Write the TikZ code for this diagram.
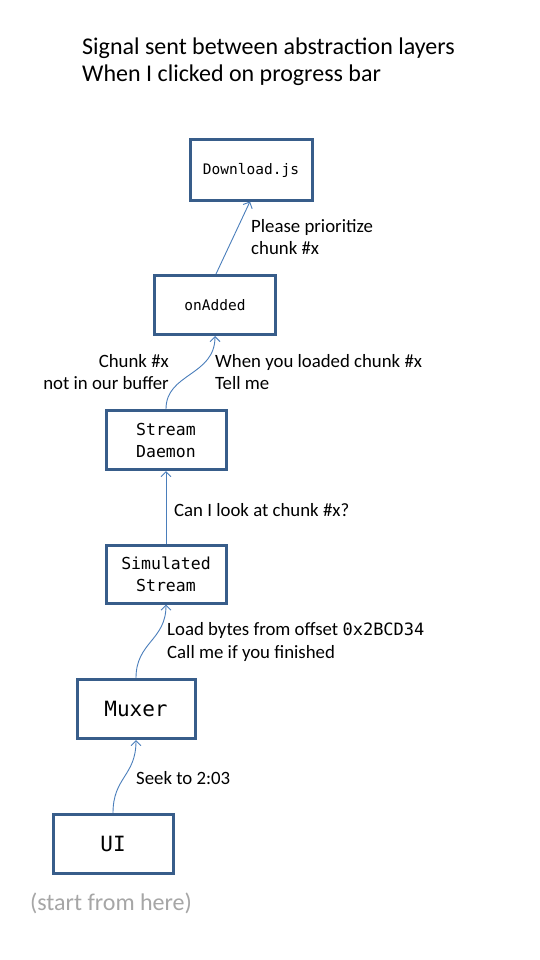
\documentclass[tikz,border=0pt]{standalone}
\usepackage{fontspec}
\setmainfont{Carlito}
\newfontfamily\mono{DejaVu Sans Mono}
\usetikzlibrary{arrows.meta}
\definecolor{boxc}{RGB}{56,93,138}
\definecolor{arrc}{RGB}{74,126,187}
\definecolor{grayt}{RGB}{166,166,166}
\tikzset{
  layer/.style={draw=boxc, line width=3pt, fill=white, inner sep=0pt, anchor=center},
  sig/.style={draw=arrc, line width=0.9pt, -{Straight Barb[length=5pt,width=10pt]}},
  lbl/.style={font=\fontsize{18.8}{22.5}\selectfont, align=left, inner sep=0pt}
}
\begin{document}
\begin{tikzpicture}[x=1pt,y=-1pt]
\useasboundingbox (0,0) rectangle (540,960);
\fill[white] (0,0) rectangle (540,960);
% title
\node[anchor=west, inner sep=0pt, font=\fontsize{24}{27}\selectfont, align=left] (title) at (82,62)
  {Signal sent between abstraction layers\\When I clicked on progress bar};
% boxes
\node[layer, minimum width=122pt, minimum height=60pt, font=\mono\fontsize{14.5}{18}\selectfont] (dl) at (251,170) {Download.js};
\node[layer, minimum width=121pt, minimum height=59pt, font=\mono\fontsize{14.5}{18}\selectfont] (on) at (215,305) {onAdded};
\node[layer, minimum width=120pt, minimum height=59pt, align=center, font=\mono\fontsize{16.5}{22}\selectfont] (sd) at (166,440) {Stream\\Daemon};
\node[layer, minimum width=120pt, minimum height=58pt, align=center, font=\mono\fontsize{16.5}{22}\selectfont] (ss) at (166,574) {Simulated\\Stream};
\node[layer, minimum width=118pt, minimum height=59pt, font=\mono\fontsize{21}{24}\selectfont] (mx) at (136,709) {Muxer};
\node[layer, minimum width=120pt, minimum height=59pt, font=\mono\fontsize{21}{24}\selectfont] (ui) at (113,844) {UI};
\node[inner sep=0pt, text=grayt, font=\fontsize{24}{28}\selectfont] (start) at (111,903) {(start from here)};
% connectors
\draw[sig] (on.north) ++(1,0) coordinate (onT) (onT) -- ([xshift=-1pt]dl.south);
\draw[sig] (sd.north) .. controls ([yshift=36pt]sd.north) and ([yshift=-40pt]on.south) .. (on.south);
\draw[sig] (ss.north) -- (sd.south);
\draw[sig] (mx.north) .. controls ([yshift=36pt]mx.north) and ([yshift=-36pt]ss.south) .. (ss.south);
\draw[sig] (ui.north) .. controls ([yshift=36pt]ui.north) and ([yshift=-36pt]mx.south) .. (mx.south);
% labels
\node[lbl, anchor=west] (l1) at (251,237) {Please prioritize\\chunk \#x};
\node[lbl, anchor=east, align=right] (l2) at (169,372) {Chunk \#x\\not in our buffer};
\node[lbl, anchor=west] (l3) at (215,372) {When you loaded chunk \#x\\Tell\ me};
\node[lbl, anchor=west] (l4) at (174,510) {Can I look at chunk \#x?};
\node[lbl, anchor=west] (l5) at (167,642) {Load bytes from offset {\mono\fontsize{17}{22}\selectfont 0x2BCD34}\\Call me if you finished};
\node[lbl, anchor=west] (l6) at (136,778) {Seek to 2:03};
\end{tikzpicture}
\end{document}
